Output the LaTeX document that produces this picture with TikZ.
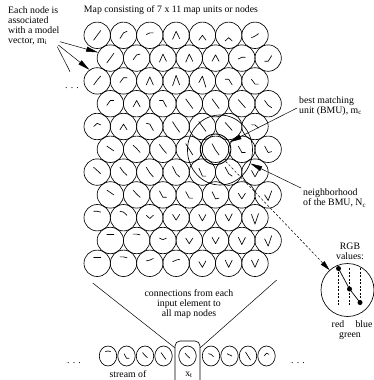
\documentclass[tikz,border=0pt]{standalone}
\usepackage{fontspec}
\setmainfont{Liberation Serif}
\usetikzlibrary{arrows.meta,shapes.geometric}

\tikzset{
  unit/.style={circle, draw, line width=0.65pt, minimum size=26.4pt, inner sep=0pt},
  sample/.style={ellipse, draw, line width=0.65pt, minimum width=17.5pt, minimum height=20pt, inner sep=0pt},
  vec/.style={line width=0.65pt, line join=round, line cap=round},
  lbl/.style={font=\fontsize{9.8}{10}\selectfont, inner sep=0pt},
  link/.style={line width=0.5pt},
  pointer/.style={link, -{Triangle[length=12pt,width=5pt]}},
  dashlink/.style={link, dash pattern=on 2.5pt off 1.8pt, -{Triangle[length=10pt,width=5pt]}},
}

% three-point model vector (R, G, B values on a 0..10 scale) drawn inside a node
\newcommand\vecglyph[5]{%
  \draw[vec] ([shift={({-3.5*#5},{(5-#2)*1.6*#5})}]#1.center)
    -- ([shift={(0,{(5-#3)*1.6*#5})}]#1.center)
    -- ([shift={({3.5*#5},{(5-#4)*1.6*#5})}]#1.center);}

\begin{document}
\begin{tikzpicture}[x=1pt,y=-1pt]
\useasboundingbox (0,0) rectangle (374,380);

% hexagonal 7 x 11 map
\foreach \r in {0,...,10} {
  \foreach \c in {0,...,6} {
    \pgfmathsetmacro\xx{97.2+26.3*\c+13.15*mod(\r,2)}
    \pgfmathsetmacro\yy{35.3+22.8*\r}
    \node[unit] (n-\r-\c) at (\xx,\yy) {};
  }
}

% model vectors of the map units
\foreach \r/\c/\ua/\ub/\uc in {
  0/0/2/5/8, 0/1/3/6.5/7.5, 0/2/5.5/6.5/6.5, 0/3/2.5/7.5/3, 0/4/2/5/2, 0/5/1.5/3.5/1.5, 0/6/3.5/4.5/6,
  1/0/2/5/8, 1/1/4/7/7.5, 1/2/2.5/7.5/3, 1/3/2.5/7.5/3, 1/4/3/7/3, 1/5/4.5/5.5/5.5, 1/6/3/3/6.5,
  2/0/2.5/5.5/8, 2/1/4/7/7, 2/2/2.5/7.5/2.5, 2/3/2/8.5/2.5, 2/4/4/8/1, 2/5/6/6/2.5, 2/6/6/3/3,
  3/0/4/7/7, 3/1/3/7/3, 3/2/7/7/3, 3/3/8/5/2, 3/4/8/5/2, 3/5/7.5/5/2.5, 3/6/7/4/2.5,
  4/0/5/7/6, 4/1/3/6.5/3, 4/2/7/6.5/2.5, 4/3/8/4.5/1.5, 4/4/8/5/2, 4/5/7.5/5/2.5, 4/6/6/6/4,
  5/0/7/5.5/4, 5/1/7.5/5.5/3, 5/2/8/5/2.5, 5/3/8.5/5/1.5, 5/4/8.5/4.5/1.5, 5/5/7/3/3, 5/6/7/3/3.5,
  6/0/8/6/4, 6/1/8/5/3, 6/2/8/4.5/2, 6/3/8.5/4/2, 6/4/7.5/2.5/2.5, 6/5/8/4/2.5, 6/6/6/2/6,
  7/0/8/6.5/5, 7/1/8/5.5/3.5, 7/2/7.5/3.5/3.5, 7/3/7/3/3, 7/4/7/2.5/3, 7/5/6/2.5/6, 7/6/5/1.5/7.5,
  8/0/9/9/8.5, 8/1/9/8.5/6.5, 8/2/6.5/4.5/6.5, 8/3/7/3.5/7, 8/4/7/3/7, 8/5/7/3/7.5, 8/6/7/1/7.5,
  9/0/9/9/9, 9/1/9/9/8.5, 9/2/6.5/5.5/6.5, 9/3/6.5/3/6.5, 9/4/7/3/7, 9/5/7/2.5/7, 9/6/6/1.5/8,
  10/0/9/9/9, 10/1/9/9/8.5, 10/2/6.5/7/8, 10/3/6/7/7.5, 10/4/6/2.5/6.5, 10/5/7/2.5/7, 10/6/7/2.5/7.5}
  {\vecglyph{n-\r-\c}{\ua}{\ub}{\uc}{1}}

% best matching unit and its neighbourhood
\node[circle, draw, line width=0.9pt, minimum size=30.6pt, inner sep=0pt] (bmu) at (n-5-4) {};
\node[ellipse, draw, line width=0.65pt, minimum width=65pt, minimum height=70pt, inner sep=0pt] (nbhd) at (220,150) {};

% titles and labels
\node[lbl, anchor=base] (title) at (171,12.5) {Map consisting of 7 x 11 map units or nodes};
\node[lbl, anchor=north west, align=left] (assoc) at (8,6)
  {Each node is\\associated\\with a model\\vector, m\textsubscript{i}};
\node[lbl, anchor=base] (dotsA) at (72,88.5) {. . .};
\node[lbl, anchor=north west, align=left] (bmulbl) at (299,96)
  {best matching\\unit (BMU), m\textsubscript{c}};
\node[lbl, anchor=north west, align=left] (nblbl) at (303,188.5)
  {neighborhood\\of the BMU, N\textsubscript{c}};

% pointers from the labels
\coordinate (a1) at (60,41.7);
\coordinate (a2) at (58.3,45);
\coordinate (a3) at (57.3,46.7);
\coordinate (a3end) at (70,71.7);
\draw[pointer] (a1) -- (n-1-0.155);
\draw[pointer] (a2) -- (n-2-0.125);
\draw[link] (a3) -- (a3end);
\coordinate (b1) at (297,108);
\draw[pointer] (b1) -- (bmu);
\coordinate (c1) at (301,188);
\draw[pointer] (c1) -- (nbhd.-24);

% RGB inset
\node[circle, draw, line width=0.65pt, minimum size=53pt, inner sep=0pt] (rgb) at (347.5,290) {};
\node[lbl, anchor=north, align=center] (rgblbl) at (350,243) {RGB\\values:};
\foreach \xa in {338.5,349.5,360}
  \draw[line width=0.6pt, dash pattern=on 2pt off 1.5pt] (\xa,268) -- (\xa,306);
\draw[line width=0.7pt] (338.5,268.5) -- (349.5,289) -- (360,302.5);
\foreach \xa/\ya in {338.5/268.5, 349.5/289, 360/302.5}
  \fill (\xa,\ya) circle (2.5);
\node[lbl, anchor=base] (red) at (338,327.5) {red};
\node[lbl, anchor=base] (blue) at (364,327.5) {blue};
\node[lbl, anchor=base] (green) at (350,337.5) {green};
\draw[dashlink] (bmu.-50) -- (rgb.132);

% stream of input samples
\node[draw, line width=0.65pt, rounded corners=5pt, minimum width=25pt, minimum height=60pt, inner sep=0pt] (box) at (187.5,371) {};
\foreach \i/\xa in {1/108,2/126.5,3/145,4/163.5,5/187.5,6/211,7/229.5,8/248,9/266.5}
  \node[sample] (x\i) at (\xa,356) {};
\foreach \i/\ua/\ub/\uc in {1/9/9.5/9, 2/7/3/3, 3/8/5.5/3.5, 4/8/5/2, 5/7.5/5/3, 6/7/6.5/4.5, 7/7/6/5, 8/8.5/5/1.5, 9/5/7.5/6.5}
  {\vecglyph{x\i}{\ua}{\ub}{\uc}{0.7}}
\node[lbl, anchor=base] (dotsB) at (74,363) {. . .};
\node[lbl, anchor=base] (dotsC) at (298,363) {. . .};
\node[lbl, anchor=base] (streamlbl) at (128,377) {stream of};
\node[lbl, anchor=base] (xt) at (189,376) {x\textsubscript{t}};

% connections from the input element to the map
\node[lbl, anchor=north, align=center] (connlbl) at (189,289)
  {connections from each\\input element to\\all map nodes};
\coordinate (fl) at (92.7,283);
\coordinate (fr) at (276.7,280);
\draw[link] (fl) -- ([yshift=-7pt]box.north west);
\draw[link] (fr) -- ([yshift=-7pt]box.north east);
\end{tikzpicture}
\end{document}
